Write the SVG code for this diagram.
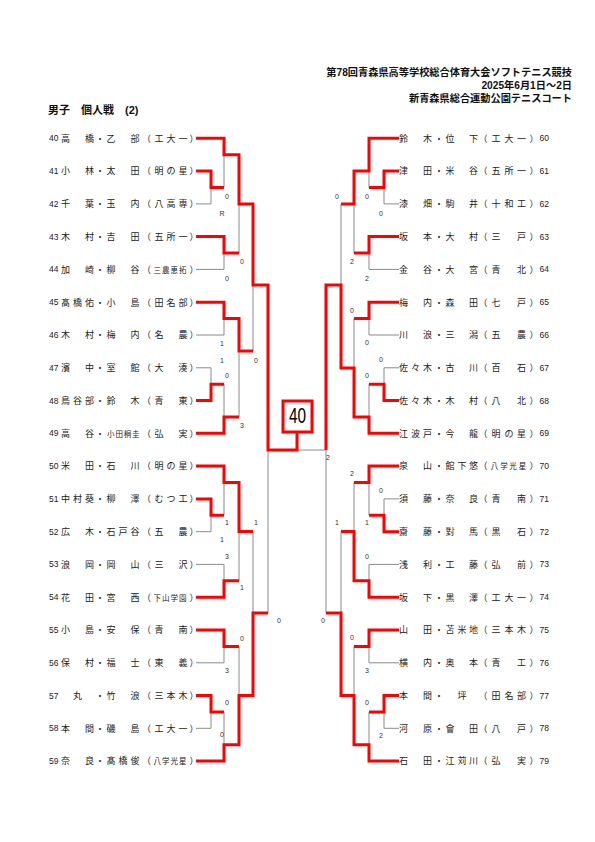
<svg xmlns="http://www.w3.org/2000/svg" width="595" height="842" viewBox="0 0 595 842">
<style>
.r{fill:none;stroke:#ff0000;stroke-width:3;stroke-linejoin:miter;stroke-linecap:butt}
.g{fill:none;stroke:#8a8a8a;stroke-width:1}
.num{font-family:"Liberation Sans",Arial,sans-serif;font-size:8.5px;fill:#222}
.nm{font-family:"Noto Sans CJK JP","Noto Sans CJK SC",sans-serif;font-size:9px;fill:#222;text-anchor:middle}
.sm{font-size:7.5px}
.s{font-family:"Liberation Sans",Arial,sans-serif;font-size:7px;fill:#333;text-anchor:middle}
.hd{font-family:"Liberation Sans","Noto Sans CJK JP",sans-serif;font-weight:bold;fill:#111}
</style>
<rect width="595" height="842" fill="#ffffff"/>
<g id="header">
<text class="hd" x="572" y="76" font-size="10.2" text-anchor="end">第78回青森県高等学校総合体育大会ソフトテニス競技</text>
<text class="hd" x="572" y="88.5" font-size="10.2" text-anchor="end">2025年6月1日～2日</text>
<text class="hd" x="572" y="101.5" font-size="10.2" text-anchor="end">新青森県総合運動公園テニスコート</text>
<text class="hd" x="48" y="114" font-size="11">男子　個人戦　(2)</text>
</g>
<g id="connectors">
<path class="g" d="M196,203.9H211V187.5 M224,154.7V187.5 M196,269.4H224V253 M239,203.9V253 M196,335H224V318.6 M196,367.8H211V384.2 M224,384.2V416.9 M239,351V416.9 M253,285V351 M196,531.7H211V515.3 M224,482.5V515.3 M196,564.4H224V580.8 M239,531.6V580.8 M253,531.6V613 M196,662.8H224V646.4 M196,728.3H211V712 M224,712V744.7 M239,646.4V695.6 M268,613V450 M297,450H326 M326,613V450"/>
<path class="g" d="M399,203.9H384V187.5 M369,171.1V187.5 M399,269.4H369V253 M354,203.9V253 M341,203.9V285 M399,335H369V318.6 M399,367.8H384V384.2 M369,384.2V416.9 M354,318.6V368 M399,498.9H384V515.3 M369,482.5V515.3 M399,564.4H369V580.8 M354,482.5V531.6 M341,531.6V613 M399,662.8H369V646.4 M399,728.3H384V712 M369,712V744.7 M354,646.4V695.6"/>
<path class="r" d="M196,138.3H224V154.7H239V203.9H253V285H268V450H297V433"/>
<path class="r" d="M196,171.1H211V187.5H224 M196,236.6H224V253H239 M196,400.5H211V384.2H224 M196,433.3H224V416.9H239 M196,498.9H211V515.3H224 M196,597.2H224V580.8H239 M196,630H224V646.4H239 M196,695.6H211V712H224"/>
<path class="r" d="M196,302.2H224V318.6H239V351H253"/>
<path class="r" d="M196,466.1H224V482.5H239V531.6H253"/>
<path class="r" d="M196,761.1H224V744.7H239V695.6H253V613H268"/>
<path class="r" d="M399,138.3H369V171.1H354V203.9H341"/>
<path class="r" d="M399,171.1H384V187.5H369 M399,236.6H369V253H354 M399,302.2H369V318.6H354 M399,400.5H384V384.2H369 M399,466.1H369V482.5H354 M399,531.7H384V515.3H369 M399,630H369V646.4H354 M399,695.6H384V712H369"/>
<path class="r" d="M399,433.3H369V416.9H354V368H341V285H326V450"/>
<path class="r" d="M399,597.2H369V580.8H354V531.6H341"/>
<path class="r" d="M399,761.1H369V744.7H354V695.6H341V613H326"/>
</g>
<g id="scores">
<text class="s" x="227" y="198.5">0</text>
<text class="s" x="222" y="215.5">R</text>
<text class="s" x="242" y="263.5">0</text>
<text class="s" x="227" y="280.5">0</text>
<text class="s" x="222" y="345.5">1</text>
<text class="s" x="222" y="362.5">1</text>
<text class="s" x="256" y="362.5">0</text>
<text class="s" x="227" y="377.5">0</text>
<text class="s" x="242" y="427.5">3</text>
<text class="s" x="227" y="524.5">1</text>
<text class="s" x="256" y="524.5">1</text>
<text class="s" x="222" y="541.5">1</text>
<text class="s" x="227" y="558.5">3</text>
<text class="s" x="242" y="589.5">1</text>
<text class="s" x="279" y="622.5">0</text>
<text class="s" x="242" y="640.5">0</text>
<text class="s" x="227" y="672.5">3</text>
<text class="s" x="227" y="704.5">0</text>
<text class="s" x="222" y="736.5">0</text>
<text class="s" x="337" y="198.5">0</text>
<text class="s" x="367" y="198.5">0</text>
<text class="s" x="381" y="215.5">0</text>
<text class="s" x="352" y="263.5">2</text>
<text class="s" x="367" y="280.5">2</text>
<text class="s" x="352" y="312.5">0</text>
<text class="s" x="367" y="344.5">0</text>
<text class="s" x="381" y="361.5">0</text>
<text class="s" x="367" y="377.5">0</text>
<text class="s" x="328" y="459.5">2</text>
<text class="s" x="352" y="475.5">2</text>
<text class="s" x="381" y="492.5">0</text>
<text class="s" x="337" y="524.5">1</text>
<text class="s" x="367" y="524.5">1</text>
<text class="s" x="367" y="558.5">0</text>
<text class="s" x="323" y="622.5">0</text>
<text class="s" x="352" y="639.5">0</text>
<text class="s" x="367" y="672.5">3</text>
<text class="s" x="367" y="704.5">0</text>
<text class="s" x="381" y="737.5">2</text>
</g>
<g id="result">
<rect x="283" y="401" width="29" height="31" fill="#ffffff" stroke="#ff0000" stroke-width="3"/>
<text x="297.5" y="423" font-family="Liberation Sans,Arial,sans-serif" font-size="22" text-anchor="middle" textLength="17" lengthAdjust="spacingAndGlyphs" fill="#000">40</text>
</g>
<g id="p40"><text class="num" x="49" y="141.3">40</text><text class="nm" x="65.5 77.5 89.5 100 111 123 135" y="141.6">高　橋・乙　部</text><text class="nm" x="146.5 159 171 183 194" y="141.6">（工大一）</text></g>
<g id="p41"><text class="num" x="49" y="174.1">41</text><text class="nm" x="65.5 77.5 89.5 100 111 123 135" y="174.4">小　林・太　田</text><text class="nm" x="146.5 159 171 183 194" y="174.4">（明の星）</text></g>
<g id="p42"><text class="num" x="49" y="206.9">42</text><text class="nm" x="65.5 77.5 89.5 100 111 123 135" y="207.2">千　葉・玉　内</text><text class="nm" x="146.5 159 171 183 194" y="207.2">（八高専）</text></g>
<g id="p43"><text class="num" x="49" y="239.6">43</text><text class="nm" x="65.5 77.5 89.5 100 111 123 135" y="239.9">木　村・吉　田</text><text class="nm" x="146.5 159 171 183 194" y="239.9">（五所一）</text></g>
<g id="p44"><text class="num" x="49" y="272.4">44</text><text class="nm" x="65.5 77.5 89.5 100 111 123 135" y="272.7">加　崎・柳　谷</text><text class="nm" y="272.7"><tspan x="146.5">（</tspan><tspan class="sm" x="157.3 165.8 174.3 182.8">三農恵拓</tspan><tspan x="194">）</tspan></text></g>
<g id="p45"><text class="num" x="49" y="305.2">45</text><text class="nm" x="65.5 77.5 89.5 100 111 123 135" y="305.5">髙橋佑・小　島</text><text class="nm" x="146.5 159 171 183 194" y="305.5">（田名部）</text></g>
<g id="p46"><text class="num" x="49" y="338">46</text><text class="nm" x="65.5 77.5 89.5 100 111 123 135" y="338.3">木　村・梅　内</text><text class="nm" x="146.5 159 171 183 194" y="338.3">（名　農）</text></g>
<g id="p47"><text class="num" x="49" y="370.8">47</text><text class="nm" x="65.5 77.5 89.5 100 111 123 135" y="371.1">濱　中・室　館</text><text class="nm" x="146.5 159 171 183 194" y="371.1">（大　湊）</text></g>
<g id="p48"><text class="num" x="49" y="403.5">48</text><text class="nm" x="65.5 77.5 89.5 100 111 123 135" y="403.8">鳥谷部・鈴　木</text><text class="nm" x="146.5 159 171 183 194" y="403.8">（青　東）</text></g>
<g id="p49"><text class="num" x="49" y="436.3">49</text><text class="nm" y="436.6"><tspan x="65.5 77.5 89.5 100">高　谷・</tspan><tspan class="sm" x="110.8 119.2 127.5 135.8">小田桐圭</tspan></text><text class="nm" x="146.5 159 171 183 194" y="436.6">（弘　実）</text></g>
<g id="p50"><text class="num" x="49" y="469.1">50</text><text class="nm" x="65.5 77.5 89.5 100 111 123 135" y="469.4">米　田・石　川</text><text class="nm" x="146.5 159 171 183 194" y="469.4">（明の星）</text></g>
<g id="p51"><text class="num" x="49" y="501.9">51</text><text class="nm" x="65.5 77.5 89.5 100 111 123 135" y="502.2">中村葵・柳　澤</text><text class="nm" x="146.5 159 171 183 194" y="502.2">（むつ工）</text></g>
<g id="p52"><text class="num" x="49" y="534.7">52</text><text class="nm" x="65.5 77.5 89.5 100 111 123 135" y="535">広　木・石戸谷</text><text class="nm" x="146.5 159 171 183 194" y="535">（五　農）</text></g>
<g id="p53"><text class="num" x="49" y="567.4">53</text><text class="nm" x="65.5 77.5 89.5 100 111 123 135" y="567.7">浪　岡・岡　山</text><text class="nm" x="146.5 159 171 183 194" y="567.7">（三　沢）</text></g>
<g id="p54"><text class="num" x="49" y="600.2">54</text><text class="nm" x="65.5 77.5 89.5 100 111 123 135" y="600.5">花　田・宮　西</text><text class="nm" y="600.5"><tspan x="146.5">（</tspan><tspan class="sm" x="157.3 165.8 174.3 182.8">下山学園</tspan><tspan x="194">）</tspan></text></g>
<g id="p55"><text class="num" x="49" y="633">55</text><text class="nm" x="65.5 77.5 89.5 100 111 123 135" y="633.3">小　島・安　保</text><text class="nm" x="146.5 159 171 183 194" y="633.3">（青　南）</text></g>
<g id="p56"><text class="num" x="49" y="665.8">56</text><text class="nm" x="65.5 77.5 89.5 100 111 123 135" y="666.1">保　村・福　士</text><text class="nm" x="146.5 159 171 183 194" y="666.1">（東　義）</text></g>
<g id="p57"><text class="num" x="49" y="698.6">57</text><text class="nm" x="65.5 77.5 89.5 100 111 123 135" y="698.9">　丸　・竹　浪</text><text class="nm" x="146.5 159 171 183 194" y="698.9">（三本木）</text></g>
<g id="p58"><text class="num" x="49" y="731.3">58</text><text class="nm" x="65.5 77.5 89.5 100 111 123 135" y="731.6">本　間・磯　島</text><text class="nm" x="146.5 159 171 183 194" y="731.6">（工大一）</text></g>
<g id="p59"><text class="num" x="49" y="764.1">59</text><text class="nm" x="65.5 77.5 89.5 100 111 123 135" y="764.4">奈　良・髙橋俊</text><text class="nm" y="764.4"><tspan x="146.5">（</tspan><tspan class="sm" x="157.3 165.8 174.3 182.8">八学光星</tspan><tspan x="194">）</tspan></text></g>
<g id="p60"><text class="nm" x="403.5 415.5 427.5 439 450 462 473.5" y="141.6">鈴　木・位　下</text><text class="nm" x="483 496 509 521.5 534" y="141.6">（工大一）</text><text class="num" x="539.5" y="141.3">60</text></g>
<g id="p61"><text class="nm" x="403.5 415.5 427.5 439 450 462 473.5" y="174.4">津　田・米　谷</text><text class="nm" x="483 496 509 521.5 534" y="174.4">（五所一）</text><text class="num" x="539.5" y="174.1">61</text></g>
<g id="p62"><text class="nm" x="403.5 415.5 427.5 439 450 462 473.5" y="207.2">漆　畑・駒　井</text><text class="nm" x="483 496 509 521.5 534" y="207.2">（十和工）</text><text class="num" x="539.5" y="206.9">62</text></g>
<g id="p63"><text class="nm" x="403.5 415.5 427.5 439 450 462 473.5" y="239.9">坂　本・大　村</text><text class="nm" x="483 496 509 521.5 534" y="239.9">（三　戸）</text><text class="num" x="539.5" y="239.6">63</text></g>
<g id="p64"><text class="nm" x="403.5 415.5 427.5 439 450 462 473.5" y="272.7">金　谷・大　宮</text><text class="nm" x="483 496 509 521.5 534" y="272.7">（青　北）</text><text class="num" x="539.5" y="272.4">64</text></g>
<g id="p65"><text class="nm" x="403.5 415.5 427.5 439 450 462 473.5" y="305.5">梅　内・森　田</text><text class="nm" x="483 496 509 521.5 534" y="305.5">（七　戸）</text><text class="num" x="539.5" y="305.2">65</text></g>
<g id="p66"><text class="nm" x="403.5 415.5 427.5 439 450 462 473.5" y="338.3">川　浪・三　潟</text><text class="nm" x="483 496 509 521.5 534" y="338.3">（五　農）</text><text class="num" x="539.5" y="338">66</text></g>
<g id="p67"><text class="nm" x="403.5 415.5 427.5 439 450 462 473.5" y="371.1">佐々木・古　川</text><text class="nm" x="483 496 509 521.5 534" y="371.1">（百　石）</text><text class="num" x="539.5" y="370.8">67</text></g>
<g id="p68"><text class="nm" x="403.5 415.5 427.5 439 450 462 473.5" y="403.8">佐々木・木　村</text><text class="nm" x="483 496 509 521.5 534" y="403.8">（八　北）</text><text class="num" x="539.5" y="403.5">68</text></g>
<g id="p69"><text class="nm" x="403.5 415.5 427.5 439 450 462 473.5" y="436.6">江波戸・今　龍</text><text class="nm" x="483 496 509 521.5 534" y="436.6">（明の星）</text><text class="num" x="539.5" y="436.3">69</text></g>
<g id="p70"><text class="nm" x="403.5 415.5 427.5 439 450 462 473.5" y="469.4">泉　山・館下悠</text><text class="nm" y="469.4"><tspan x="483">（</tspan><tspan class="sm" x="494.6 503.9 513.1 522.4">八学光星</tspan><tspan x="534">）</tspan></text><text class="num" x="539.5" y="469.1">70</text></g>
<g id="p71"><text class="nm" x="403.5 415.5 427.5 439 450 462 473.5" y="502.2">須　藤・奈　良</text><text class="nm" x="483 496 509 521.5 534" y="502.2">（青　南）</text><text class="num" x="539.5" y="501.9">71</text></g>
<g id="p72"><text class="nm" x="403.5 415.5 427.5 439 450 462 473.5" y="535">齋　藤・對　馬</text><text class="nm" x="483 496 509 521.5 534" y="535">（黒　石）</text><text class="num" x="539.5" y="534.7">72</text></g>
<g id="p73"><text class="nm" x="403.5 415.5 427.5 439 450 462 473.5" y="567.7">浅　利・工　藤</text><text class="nm" x="483 496 509 521.5 534" y="567.7">（弘　前）</text><text class="num" x="539.5" y="567.4">73</text></g>
<g id="p74"><text class="nm" x="403.5 415.5 427.5 439 450 462 473.5" y="600.5">坂　下・黒　澤</text><text class="nm" x="483 496 509 521.5 534" y="600.5">（工大一）</text><text class="num" x="539.5" y="600.2">74</text></g>
<g id="p75"><text class="nm" x="403.5 415.5 427.5 439 450 462 473.5" y="633.3">山　田・苫米地</text><text class="nm" x="483 496 509 521.5 534" y="633.3">（三本木）</text><text class="num" x="539.5" y="633">75</text></g>
<g id="p76"><text class="nm" x="403.5 415.5 427.5 439 450 462 473.5" y="666.1">横　内・奥　本</text><text class="nm" x="483 496 509 521.5 534" y="666.1">（青　工）</text><text class="num" x="539.5" y="665.8">76</text></g>
<g id="p77"><text class="nm" x="403.5 415.5 427.5 439 450 462 473.5" y="698.9">本　間・　坪　</text><text class="nm" x="483 496 509 521.5 534" y="698.9">（田名部）</text><text class="num" x="539.5" y="698.6">77</text></g>
<g id="p78"><text class="nm" x="403.5 415.5 427.5 439 450 462 473.5" y="731.6">河　原・會　田</text><text class="nm" x="483 496 509 521.5 534" y="731.6">（八　戸）</text><text class="num" x="539.5" y="731.3">78</text></g>
<g id="p79"><text class="nm" x="403.5 415.5 427.5 439 450 462 473.5" y="764.4">石　田・江苅川</text><text class="nm" x="483 496 509 521.5 534" y="764.4">（弘　実）</text><text class="num" x="539.5" y="764.1">79</text></g>
</svg>
